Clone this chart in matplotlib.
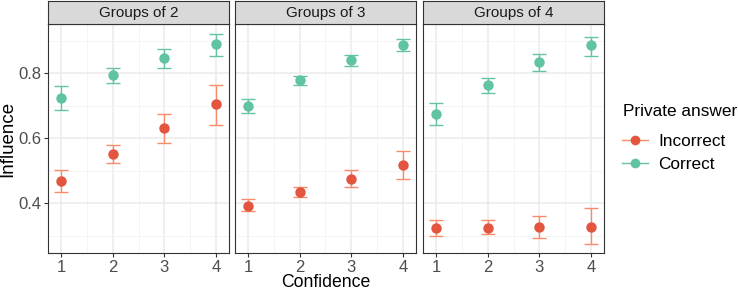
import matplotlib.pyplot as plt
from matplotlib.lines import Line2D

plt.rcParams['font.family'] = ['Liberation Sans', 'DejaVu Sans']

confidence = [1, 2, 3, 4]
panels = ['Groups of 2', 'Groups of 3', 'Groups of 4']

# Correct private answer: mean, lower, upper
correct_mean = [[0.725, 0.794, 0.848, 0.890],
                [0.700, 0.779, 0.841, 0.888],
                [0.675, 0.763, 0.834, 0.886]]
correct_lo = [[0.686, 0.769, 0.817, 0.852],
              [0.677, 0.763, 0.822, 0.868],
              [0.640, 0.740, 0.806, 0.855]]
correct_hi = [[0.761, 0.815, 0.874, 0.920],
              [0.722, 0.793, 0.857, 0.907],
              [0.708, 0.786, 0.859, 0.912]]

# Incorrect private answer
incorrect_mean = [[0.468, 0.551, 0.632, 0.705],
                  [0.393, 0.434, 0.476, 0.518],
                  [0.323, 0.325, 0.326, 0.327]]
incorrect_lo = [[0.435, 0.523, 0.585, 0.640],
                [0.375, 0.418, 0.449, 0.476],
                [0.299, 0.304, 0.292, 0.276]]
incorrect_hi = [[0.501, 0.579, 0.675, 0.763],
                [0.412, 0.451, 0.504, 0.561],
                [0.349, 0.347, 0.362, 0.384]]

col_inc_pt, col_inc_bar = '#E3553E', '#F98B6B'
col_cor_pt, col_cor_bar = '#60C3A2', '#66C2A5'

W, H = 738, 291
fig = plt.figure(figsize=(W / 100, H / 100), dpi=100)

lefts = [48, 235, 423]
pw = 181
top, bottom = 24, 253.3
strip_h = 23

for i, name in enumerate(panels):
    ax = fig.add_axes([lefts[i] / W, 1 - bottom / H, pw / W, (bottom - top) / H])
    for mean, lo, hi, cp, cb in [(incorrect_mean[i], incorrect_lo[i], incorrect_hi[i], col_inc_pt, col_inc_bar),
                                 (correct_mean[i], correct_lo[i], correct_hi[i], col_cor_pt, col_cor_bar)]:
        yerr = [[m - l for m, l in zip(mean, lo)], [h - m for m, h in zip(mean, hi)]]
        ax.errorbar(confidence, mean, yerr=yerr, fmt='none', ecolor=cb,
                    elinewidth=1, capsize=5, capthick=1, zorder=3)
        ax.plot(confidence, mean, 'o', color=cp, markersize=7.5,
                markeredgewidth=0, zorder=4)
    ax.set_xlim(0.75, 4.25)
    ax.set_ylim(0.246, 0.952)
    ax.set_xticks(confidence)
    ax.set_xticks([1.5, 2.5, 3.5], minor=True)
    ax.set_yticks([0.4, 0.6, 0.8])
    ax.set_yticks([0.3, 0.5, 0.7, 0.9], minor=True)
    ax.grid(True, which='major', color='#EBEBEB', linewidth=1.1, zorder=0)
    ax.grid(True, which='minor', color='#F3F3F3', linewidth=0.6, zorder=0)
    ax.set_axisbelow(True)
    ax.tick_params(which='major', length=3, color='#333333', labelsize=12,
                   labelcolor='#4D4D4D', pad=2)
    ax.tick_params(which='minor', length=0)
    if i > 0:
        ax.tick_params(axis='y', labelleft=False, length=0)
    for s in ax.spines.values():
        s.set_color('#333333')
        s.set_linewidth(0.8)

    # strip
    sax = fig.add_axes([lefts[i] / W, 1 - top / H, pw / W, strip_h / H])
    sax.set_facecolor('#D9D9D9')
    sax.set_xticks([])
    sax.set_yticks([])
    for s in sax.spines.values():
        s.set_color('#333333')
        s.set_linewidth(0.8)
    sax.text(0.5, 0.47, name, ha='center', va='center', fontsize=11,
             color='#1A1A1A', transform=sax.transAxes)

fig.text(8 / W, 1 - 139 / H, 'Influence', rotation=90, ha='center', va='center',
         fontsize=13.5)
fig.text(326 / W, 1 - 282.5 / H, 'Confidence', ha='center', va='center', fontsize=12.7)

# legend
fig.text(623 / W, 1 - 111 / H, 'Private answer', ha='left', va='center', fontsize=12.4)
handles = [Line2D([0], [0], color=col_inc_bar, marker='o', markerfacecolor=col_inc_pt,
                  markeredgewidth=0, markersize=7, linewidth=1),
           Line2D([0], [0], color=col_cor_bar, marker='o', markerfacecolor=col_cor_pt,
                  markeredgewidth=0, markersize=7, linewidth=1)]
fig.legend(handles, ['Incorrect', 'Correct'],
           loc='upper left', bbox_to_anchor=(622 / W, 1 - 134 / H),
           frameon=False, fontsize=12.4,
           handlelength=1.5, handletextpad=0.6, labelspacing=0.45,
           borderaxespad=0, borderpad=0)

fig.savefig('out.png', dpi=100)
